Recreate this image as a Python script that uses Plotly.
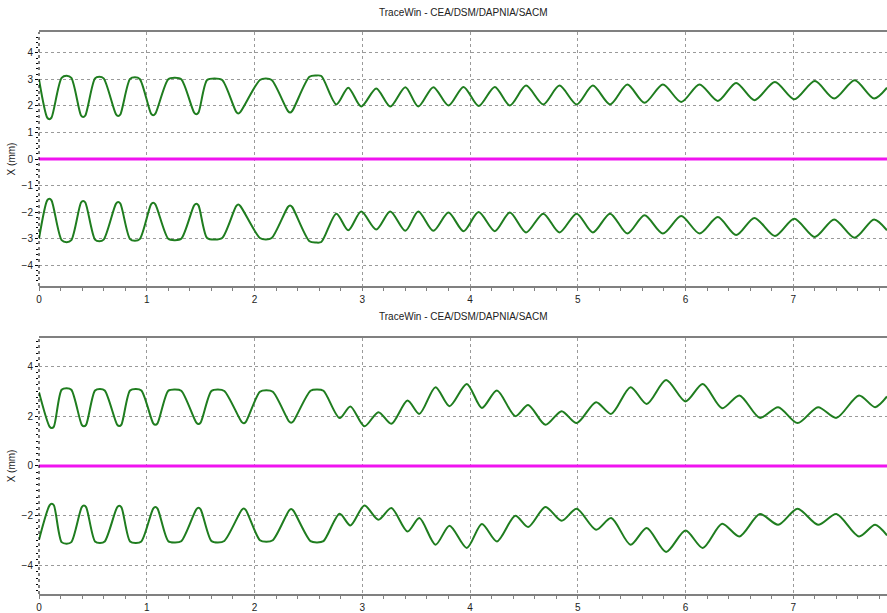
import plotly.graph_objects as go

TITLE = "TraceWin - CEA/DSM/DAPNIA/SACM"
X_MAX = 7.87

# ---- Panel 1: upper envelope (lower envelope is its mirror) ----
p1_z = [0.00, 0.076, 0.096, 0.116, 0.21, 0.257, 0.30, 0.39, 0.41, 0.43,
        0.52, 0.56, 0.60, 0.715, 0.735, 0.755, 0.845, 0.89, 0.935,
        1.04, 1.06, 1.08, 1.20, 1.26, 1.32, 1.44, 1.46, 1.48,
        1.56, 1.63, 1.70, 1.83, 1.85, 1.87, 2.05, 2.105, 2.16,
        2.31, 2.33, 2.35, 2.51, 2.57, 2.62,
        2.76, 2.87, 2.99, 3.13, 3.26, 3.40, 3.52, 3.66, 3.80,
        3.94, 4.08, 4.23, 4.37, 4.52, 4.68, 4.83, 4.99, 5.14, 5.30, 5.46,
        5.62, 5.79, 5.96, 6.13, 6.30, 6.47, 6.64, 6.83, 7.01, 7.20, 7.38,
        7.57, 7.75, 7.87]
p1_x = [3.00, 1.56, 1.50, 1.56, 3.06, 3.14, 3.06, 1.64, 1.58, 1.64,
        3.04, 3.10, 3.04, 1.68, 1.62, 1.68, 3.02, 3.08, 3.02,
        1.71, 1.65, 1.71, 3.01, 3.06, 3.01, 1.75, 1.69, 1.75,
        2.98, 3.04, 2.98, 1.78, 1.72, 1.78, 2.98, 3.04, 2.98,
        1.81, 1.75, 1.81, 3.10, 3.15, 3.13,
        2.06, 2.69, 1.98, 2.66, 1.98, 2.71, 1.98, 2.71, 2.02,
        2.72, 2.00, 2.72, 2.02, 2.77, 2.06, 2.77, 2.06, 2.77, 2.06, 2.81,
        2.12, 2.81, 2.15, 2.81, 2.19, 2.87, 2.22, 2.90, 2.25, 2.94, 2.28,
        2.97, 2.28, 2.69]

# ---- Panel 2: upper envelope (lower envelope is its mirror) ----
p2_z = [0.00, 0.098, 0.118, 0.138, 0.21, 0.257, 0.30, 0.397, 0.417, 0.437,
        0.52, 0.566, 0.61, 0.725, 0.745, 0.765, 0.845, 0.90, 0.95,
        1.06, 1.08, 1.10, 1.20, 1.26, 1.32, 1.46, 1.48, 1.50,
        1.60, 1.66, 1.72, 1.88, 1.90, 1.92, 2.05, 2.11, 2.17,
        2.32, 2.34, 2.36, 2.52, 2.58, 2.64,
        2.79, 2.89, 3.02, 3.15, 3.27, 3.42, 3.53, 3.68, 3.81, 3.97, 4.11,
        4.25, 4.42, 4.54, 4.70, 4.85, 4.99, 5.17, 5.31, 5.49, 5.64, 5.82,
        6.00, 6.16, 6.34, 6.50, 6.69, 6.86, 7.04, 7.23, 7.40, 7.61, 7.76,
        7.87]
p2_x = [2.96, 1.58, 1.52, 1.58, 3.06, 3.12, 3.06, 1.65, 1.59, 1.65,
        3.03, 3.09, 3.03, 1.66, 1.60, 1.66, 3.03, 3.09, 3.03,
        1.71, 1.65, 1.71, 3.02, 3.07, 3.02, 1.74, 1.68, 1.74,
        3.01, 3.07, 3.01, 1.77, 1.71, 1.77, 2.98, 3.04, 2.98,
        1.79, 1.73, 1.79, 3.02, 3.07, 3.02,
        1.92, 2.39, 1.59, 2.16, 1.69, 2.63, 2.09, 3.16, 2.40, 3.29, 2.33,
        3.03, 2.00, 2.45, 1.65, 2.20, 1.72, 2.56, 2.09, 3.16, 2.49, 3.45,
        2.59, 3.29, 2.32, 2.83, 1.93, 2.36, 1.72, 2.36, 1.93, 2.83, 2.36,
        2.79]

# beam centroid
cent_z = [0.0, X_MAX]
cent_x = [0.0, 0.0]

Y1 = 4.79
Y2 = 5.14
p1_ticks = [-4, -3, -2, -1, 0, 1, 2, 3, 4]
p2_ticks = [-4, -2, 0, 2, 4]
x_ticks = [0, 1, 2, 3, 4, 5, 6, 7]

GREEN = "#1f7d1f"
MAGENTA = "#f014f0"

fig = go.Figure()

def add_panel(z, x, xa, ya):
    fig.add_trace(go.Scatter(x=z, y=x, xaxis=xa, yaxis=ya, mode="lines",
                             line=dict(color=GREEN, width=2, shape="spline", smoothing=0.8),
                             hoverinfo="skip", showlegend=False))
    fig.add_trace(go.Scatter(x=z, y=[-v for v in x], xaxis=xa, yaxis=ya, mode="lines",
                             line=dict(color=GREEN, width=2, shape="spline", smoothing=0.8),
                             hoverinfo="skip", showlegend=False))
    fig.add_trace(go.Scatter(x=cent_z, y=cent_x, xaxis=xa, yaxis=ya, mode="lines",
                             line=dict(color=MAGENTA, width=3),
                             hoverinfo="skip", showlegend=False))

add_panel(p1_z, p1_x, "x", "y")
add_panel(p2_z, p2_x, "x2", "y2")

tickfont = dict(family="Liberation Sans, Arial, sans-serif", size=10, color="#222")

xcommon = dict(range=[0, X_MAX], tickvals=x_ticks, showgrid=True,
               gridcolor="#9a9a9a", griddash="3px,3px", gridwidth=1,
               showline=True, linecolor="#808080", linewidth=2, mirror=True,
               ticks="outside", ticklen=3, tickcolor="#808080",
               minor=dict(dtick=0.2, ticks="outside", ticklen=3, tickcolor="#808080", showgrid=False),
               zeroline=False, tickfont=tickfont, fixedrange=True)
ycommon = dict(showgrid=True, gridcolor="#9a9a9a", griddash="3px,3px", gridwidth=1,
               showline=False, zeroline=False, ticks="outside", ticklen=3,
               tickcolor="#000", tickfont=tickfont,
               title=dict(text="X (mm)", font=dict(family="Liberation Sans, Arial, sans-serif",
                                                    size=10, color="#222"), standoff=4),
               fixedrange=True)

fig.update_layout(
    width=887, height=613,
    margin=dict(l=39, r=0, t=32, b=17),
    plot_bgcolor="white", paper_bgcolor="white",
    xaxis=dict(domain=[0, 1], anchor="y", **xcommon),
    yaxis=dict(domain=[0.548, 1.0], anchor="x", range=[-Y1, Y1], tickvals=p1_ticks,
               minor=dict(dtick=0.2, ticks="outside", ticklen=2, tickcolor="#000", showgrid=False),
               **ycommon),
    xaxis2=dict(domain=[0, 1], anchor="y2", **xcommon),
    yaxis2=dict(domain=[0, 0.4557], anchor="x2", range=[-Y2, Y2], tickvals=p2_ticks,
                minor=dict(dtick=0.25, ticks="outside", ticklen=2, tickcolor="#000", showgrid=False),
                **ycommon),
    shapes=[
        dict(type="line", xref="x domain", yref="y domain", x0=0, x1=0, y0=0, y1=1,
             line=dict(color="#000", width=1, dash="dot")),
        dict(type="line", xref="x2 domain", yref="y2 domain", x0=0, x1=0, y0=0, y1=1,
             line=dict(color="#000", width=1, dash="dot")),
    ],
    annotations=[
        dict(text=TITLE, xref="paper", yref="paper", x=0.5, y=1.0, yshift=20,
             xanchor="center", yanchor="middle", showarrow=False,
             font=dict(family="Liberation Sans, Arial, sans-serif", size=10, color="#222")),
        dict(text=TITLE, xref="paper", yref="paper", x=0.5, y=0.4557, yshift=21,
             xanchor="center", yanchor="middle", showarrow=False,
             font=dict(family="Liberation Sans, Arial, sans-serif", size=10, color="#222")),
    ],
)

fig.write_html("out.html")
